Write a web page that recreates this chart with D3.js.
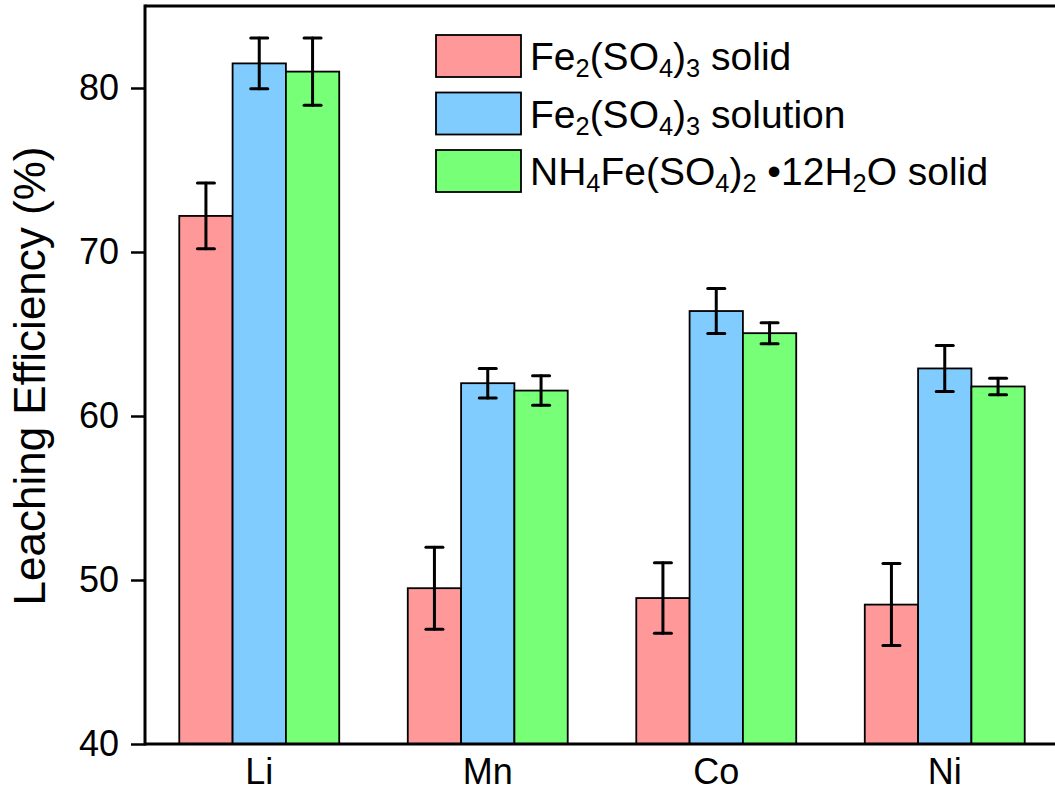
<!DOCTYPE html>
<html>
<head>
<meta charset="utf-8">
<script src="https://cdn.jsdelivr.net/npm/d3@7"></script>
<style>
  html, body { margin: 0; padding: 0; background: #fff; }
  svg { display: block; font-family: "Liberation Sans", Arial, sans-serif; }
</style>
</head>
<body>
<svg id="chart" width="1055" height="793"></svg>
<script>
// ---------- data ----------
const categories = ["Li", "Mn", "Co", "Ni"];
const seriesNames = ["Fe_{2}(SO_{4})_{3} solid", "Fe_{2}(SO_{4})_{3} solution", "NH_{4}Fe(SO_{4})_{2} •12H_{2}O solid"];
const seriesColors = ["#ff9999", "#80ccff", "#77ff77"];
const solidValues    = [72.2, 49.5, 48.9, 48.5];
const solidErrors    = [2.0, 2.5, 2.15, 2.5];
const solutionValues = [81.5, 62.0, 66.4, 62.9];
const solutionErrors = [1.55, 0.9, 1.37, 1.4];
const ammoniumValues = [81.0, 61.55, 65.05, 61.8];
const ammoniumErrors = [2.05, 0.9, 0.64, 0.5];
const yTicks = [40, 50, 60, 70, 80];
const yDomain = [40, 85];

const seriesValues = [solidValues, solutionValues, ammoniumValues];
const seriesErrors = [solidErrors, solutionErrors, ammoniumErrors];

// ---------- layout ----------
const svg = d3.select("#chart");
const mLeft = 145, mRight = 1059, mTop = 6, mBottom = 744;

const x = d3.scaleBand().domain(categories).range([mLeft, mRight]).paddingInner(0.3).paddingOuter(0.15);
const xs = d3.scaleBand().domain(d3.range(seriesNames.length)).range([0, x.bandwidth()]);
const y = d3.scaleLinear().domain(yDomain).range([mBottom, mTop]);

const rows = [];
categories.forEach((c, ci) => {
  seriesNames.forEach((s, si) => {
    rows.push({ cat: c, si, v: seriesValues[si][ci], e: seriesErrors[si][ci] });
  });
});

// bars
svg.append("g").selectAll("rect").data(rows).join("rect")
  .attr("x", d => x(d.cat) + xs(d.si))
  .attr("y", d => y(d.v))
  .attr("width", xs.bandwidth())
  .attr("height", d => y(yDomain[0]) - y(d.v))
  .attr("fill", d => seriesColors[d.si])
  .attr("stroke", "#000")
  .attr("stroke-width", 1.8);

// error bars
const eg = svg.append("g").attr("stroke", "#000").attr("stroke-width", 3).attr("stroke-linecap", "round");
const capW = 17;
rows.forEach(d => {
  const cx = x(d.cat) + xs(d.si) + xs.bandwidth() / 2;
  const y1 = y(d.v + d.e), y2 = y(d.v - d.e);
  eg.append("line").attr("x1", cx).attr("x2", cx).attr("y1", y1).attr("y2", y2);
  eg.append("line").attr("x1", cx - capW / 2).attr("x2", cx + capW / 2).attr("y1", y1).attr("y2", y1);
  eg.append("line").attr("x1", cx - capW / 2).attr("x2", cx + capW / 2).attr("y1", y2).attr("y2", y2);
});

// y axis
const yAxis = d3.axisLeft(y).tickValues(yTicks).tickSize(14).tickPadding(12);
const gy = svg.append("g").attr("transform", `translate(${mLeft},0)`).call(yAxis);
gy.select(".domain").remove();
gy.selectAll(".tick line").attr("stroke", "#000").attr("stroke-width", 2.5);
gy.selectAll(".tick text").attr("font-size", 36).attr("fill", "#000")
  .attr("font-family", "Liberation Sans, Arial, sans-serif");

// x axis
const xAxis = d3.axisBottom(x).tickSize(0).tickPadding(14);
const gx = svg.append("g").attr("transform", `translate(0,${mBottom})`).call(xAxis);
gx.select(".domain").remove();
gx.selectAll(".tick text").attr("font-size", 36).attr("fill", "#000")
  .attr("font-family", "Liberation Sans, Arial, sans-serif");

// frame
const frame = svg.append("g").attr("stroke", "#000").attr("stroke-width", 3).attr("fill", "none");
frame.append("line").attr("x1", mLeft).attr("x2", 1060).attr("y1", mTop).attr("y2", mTop);
frame.append("line").attr("x1", mLeft).attr("x2", 1060).attr("y1", mBottom).attr("y2", mBottom);
frame.append("line").attr("x1", mLeft).attr("x2", mLeft).attr("y1", mTop - 1.5).attr("y2", mBottom + 1.5);

// y axis title
svg.append("text")
  .attr("transform", `translate(45,376) rotate(-90)`)
  .attr("text-anchor", "middle")
  .attr("font-size", 44)
  .attr("fill", "#000")
  .text("Leaching Efficiency (%)");

// legend
function addRich(textSel, str) {
  const parts = str.split(/(_\{[^}]*\})/).filter(p => p.length);
  let inSub = false;
  parts.forEach(p => {
    const m = p.match(/^_\{([^}]*)\}$/);
    if (m) {
      textSel.append("tspan").attr("font-size", "0.65em").attr("dy", "0.28em").text(m[1]);
      inSub = true;
    } else {
      const t = textSel.append("tspan").text(p);
      if (inSub) t.attr("dy", "-0.182em");
      inSub = false;
    }
  });
}
const legend = svg.append("g").attr("transform", "translate(436,35)");
const rowGap = 57.5;
seriesNames.forEach((s, i) => {
  const g = legend.append("g").attr("transform", `translate(0,${i * rowGap})`);
  g.append("rect").attr("width", 85).attr("height", 42)
    .attr("fill", seriesColors[i]).attr("stroke", "#000").attr("stroke-width", 1.8);
  const t = g.append("text").attr("x", 94).attr("y", 35).attr("font-size", 39).attr("fill", "#000");
  addRich(t, s);
});
</script>
</body>
</html>
